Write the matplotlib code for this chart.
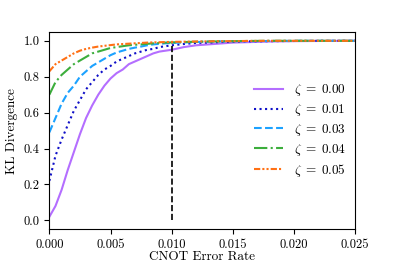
import numpy as np
import matplotlib.pyplot as plt

plt.rcParams['font.family'] = 'serif'
plt.rcParams['font.serif'] = ['cmr10']
plt.rcParams['mathtext.fontset'] = 'cm'
plt.rcParams['axes.formatter.use_mathtext'] = True

# CNOT error rate grid and KL divergence values
x_pts = [0.0, 0.0005, 0.001, 0.0015, 0.002, 0.0025, 0.003, 0.0035, 0.004,
         0.0045, 0.005, 0.0055, 0.006, 0.0065, 0.007, 0.0075, 0.008, 0.0085,
         0.009, 0.0095, 0.010, 0.011, 0.012, 0.013, 0.014, 0.015, 0.016,
         0.018, 0.020, 0.022, 0.025]

kl_000 = [0.02, 0.08, 0.17, 0.28, 0.38, 0.48, 0.57, 0.64, 0.70,
          0.75, 0.79, 0.82, 0.84, 0.87, 0.885, 0.90, 0.915, 0.93,
          0.94, 0.945, 0.95, 0.965, 0.975, 0.98, 0.985, 0.99, 0.992,
          0.996, 0.998, 0.999, 1.0]
kl_001 = [0.22, 0.36, 0.45, 0.53, 0.61, 0.67, 0.73, 0.77, 0.81,
          0.84, 0.86, 0.885, 0.90, 0.915, 0.93, 0.94, 0.95, 0.955,
          0.965, 0.97, 0.975, 0.982, 0.988, 0.99, 0.993, 0.995, 0.997,
          0.998, 0.999, 1.0, 1.0]
kl_003 = [0.49, 0.57, 0.65, 0.71, 0.75, 0.80, 0.83, 0.86, 0.88,
          0.90, 0.92, 0.935, 0.945, 0.955, 0.962, 0.968, 0.975, 0.98,
          0.983, 0.986, 0.988, 0.991, 0.993, 0.995, 0.997, 0.998, 0.998,
          0.999, 1.0, 1.0, 1.0]
kl_004 = [0.70, 0.77, 0.81, 0.84, 0.87, 0.89, 0.91, 0.93, 0.94,
          0.95, 0.96, 0.965, 0.97, 0.975, 0.978, 0.98, 0.983, 0.986,
          0.988, 0.99, 0.991, 0.993, 0.995, 0.996, 0.997, 0.998, 0.999,
          1.0, 1.0, 1.0, 1.0]
kl_005 = [0.83, 0.87, 0.89, 0.91, 0.93, 0.945, 0.955, 0.962, 0.968,
          0.972, 0.976, 0.98, 0.982, 0.984, 0.986, 0.988, 0.99, 0.991,
          0.992, 0.993, 0.994, 0.995, 0.996, 0.997, 0.998, 0.998, 0.999,
          1.0, 1.0, 1.0, 1.0]

labels = [r'$\zeta\;=\;0.00$', r'$\zeta\;=\;0.01$', r'$\zeta\;=\;0.03$',
          r'$\zeta\;=\;0.04$', r'$\zeta\;=\;0.05$']
colors = ['#b46eff', '#1010c8', '#1ca2ff', '#3cae3c', '#ff7014']
styles = ['-', ':', '--', '-.', (0, (3, 1, 1, 1, 1, 1))]
series = [kl_000, kl_001, kl_003, kl_004, kl_005]

fig = plt.figure(figsize=(3.95, 2.63), dpi=100)
ax = fig.add_axes([0.125, 0.128, 0.774, 0.751])

for y, lab, c, ls in zip(series, labels, colors, styles):
    ax.plot(x_pts, y, color=c, linestyle=ls, linewidth=1.5, label=lab)

ax.plot([0.01, 0.01], [0.0, 0.99], 'k--', linewidth=1.2)

ax.set_xlim(0, 0.025)
ax.set_ylim(-0.05, 1.05)
ax.set_xticks([0, 0.005, 0.01, 0.015, 0.02, 0.025])
ax.set_xticklabels(['0.000', '0.005', '0.010', '0.015', '0.020', '0.025'])
ax.set_yticks([0, 0.2, 0.4, 0.6, 0.8, 1.0])
ax.set_yticklabels(['0.0', '0.2', '0.4', '0.6', '0.8', '1.0'])
ax.tick_params(labelsize=9)
ax.set_xlabel('CNOT Error Rate', fontsize=9.5, labelpad=0)
ax.set_ylabel('KL Divergence', fontsize=9.5, labelpad=4)
ax.legend(loc='center right', frameon=False, fontsize=9.5,
          handlelength=2.2, labelspacing=0.3, bbox_to_anchor=(1.01, 0.5))

fig.savefig('out.png', dpi=100)
